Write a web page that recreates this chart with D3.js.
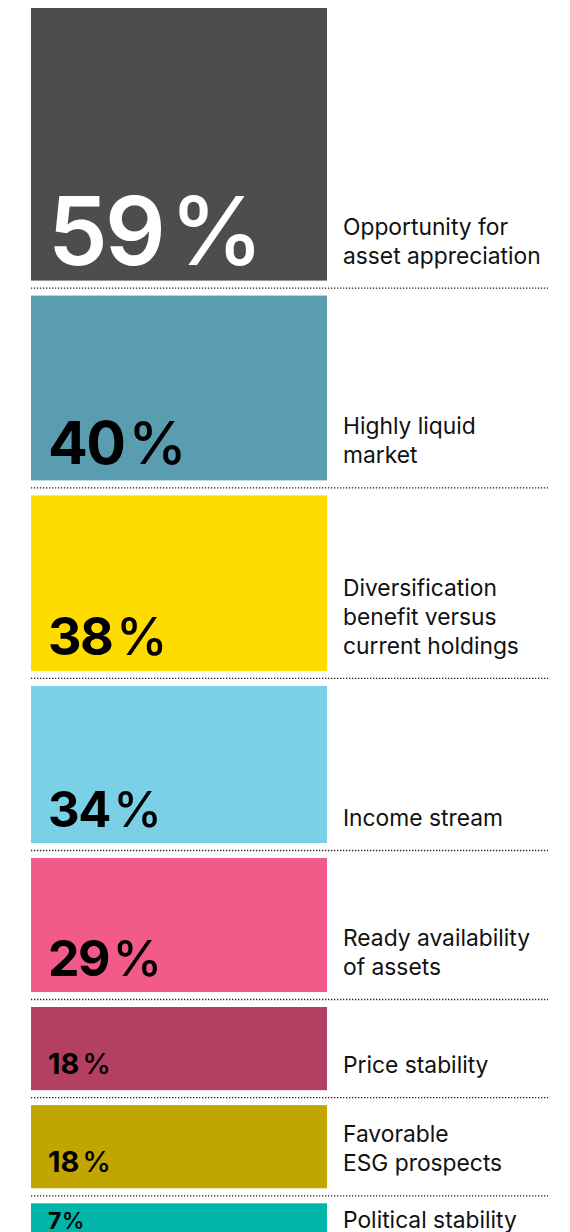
<!DOCTYPE html>
<html>
<head>
<meta charset="utf-8">
<script src="https://cdn.jsdelivr.net/npm/d3@7"></script>
<style>
  html, body { margin: 0; padding: 0; background: #fff; }
  svg { display: block; }
</style>
</head>
<body>
<svg id="chart" width="570" height="1232"></svg>
<script>
const categories = [
  ["Opportunity for", "asset appreciation"],
  ["Highly liquid", "market"],
  ["Diversification", "benefit versus", "current holdings"],
  ["Income stream"],
  ["Ready availability", "of assets"],
  ["Price stability"],
  ["Favorable", "ESG prospects"],
  ["Political stability"]
];
const values = [59, 40, 38, 34, 29, 18, 18, 7];
const colors = ["#4d4d4f", "#5b9db0", "#ffdc00", "#7ad0e6", "#f15a89", "#b33f63", "#c1a500", "#00b6a9"];
const valueTextColors = ["#ffffff", "#000000", "#000000", "#000000", "#000000", "#000000", "#000000", "#000000"];

(function () {
const svg = d3.select("#chart");
const barLeft = 31, barRight = 327, startY = 8, gap = 15;
const pxPerPct = 4.62;

const h = d3.scaleLinear().domain([0, 100]).range([0, 100 * pxPerPct]);
const x = d3.scaleLinear().domain([0, 1]).range([barLeft, barRight]);

const fontSize = d3.scaleLinear().domain([7, 18, 29, 34, 38, 40, 59]).range([23, 29, 50, 49, 52, 59, 95]).clamp(true);
const fontWeight = v => v >= 50 ? 600 : 700;
const spacing = v => v < 20 ? 0 : -0.03;
const pctGap = v => v < 10 ? 0.02 : (v < 20 ? 0.1 : 0.07);

const rows = [];
let y = startY;
values.forEach((v, i) => {
  const hh = h(v);
  rows.push({ i, v, y0: y, y1: y + hh, lines: categories[i], color: colors[i], tc: valueTextColors[i] });
  y += hh + gap;
});

const g = svg.append("g");

g.selectAll("rect.bar").data(rows).enter().append("rect")
  .attr("class", "bar")
  .attr("x", x(0)).attr("width", x(1) - x(0))
  .attr("y", d => d.y0).attr("height", d => d.y1 - d.y0)
  .attr("fill", d => d.color);

g.selectAll("line.sep").data(rows.slice(0, -1)).enter().append("line")
  .attr("class", "sep")
  .attr("x1", barLeft).attr("x2", 548)
  .attr("y1", d => d.y1 + gap / 2).attr("y2", d => d.y1 + gap / 2)
  .attr("stroke", "#222").attr("stroke-width", 1.3)
  .attr("stroke-dasharray", "1.3 1.7");

const baseline = d => Math.max(d.y1 - 16, d.y0 + 26);

const vt = g.selectAll("text.val").data(rows).enter().append("text")
  .attr("class", "val")
  .attr("x", 48)
  .attr("y", baseline)
  .attr("fill", d => d.tc)
  .style("font-family", "Inter, 'Noto Sans', sans-serif")
  .style("font-size", d => fontSize(d.v) + "px")
  .style("font-weight", d => fontWeight(d.v))
  .style("letter-spacing", d => (spacing(d.v) * fontSize(d.v)) + "px");
vt.append("tspan").text(d => d.v);
vt.append("tspan").attr("dx", d => fontSize(d.v) * pctGap(d.v)).style("font-weight", 500).text("%");

const lt = g.selectAll("text.lab").data(rows).enter().append("text")
  .attr("class", "lab")
  .attr("x", 343)
  .attr("y", baseline)
  .attr("fill", "#111")
  .style("font-family", "Inter, 'Noto Sans', sans-serif")
  .style("font-size", "22.8px")
  .style("font-weight", 400);
lt.selectAll("tspan").data(d => d.lines.map((t, k) => ({ t, k, n: d.lines.length, b: baseline(d) - 1 })))
  .enter().append("tspan")
  .attr("x", 343)
  .attr("y", e => e.b - (e.n - 1 - e.k) * 29)
  .text(e => e.t);
})();
</script>
</body>
</html>
